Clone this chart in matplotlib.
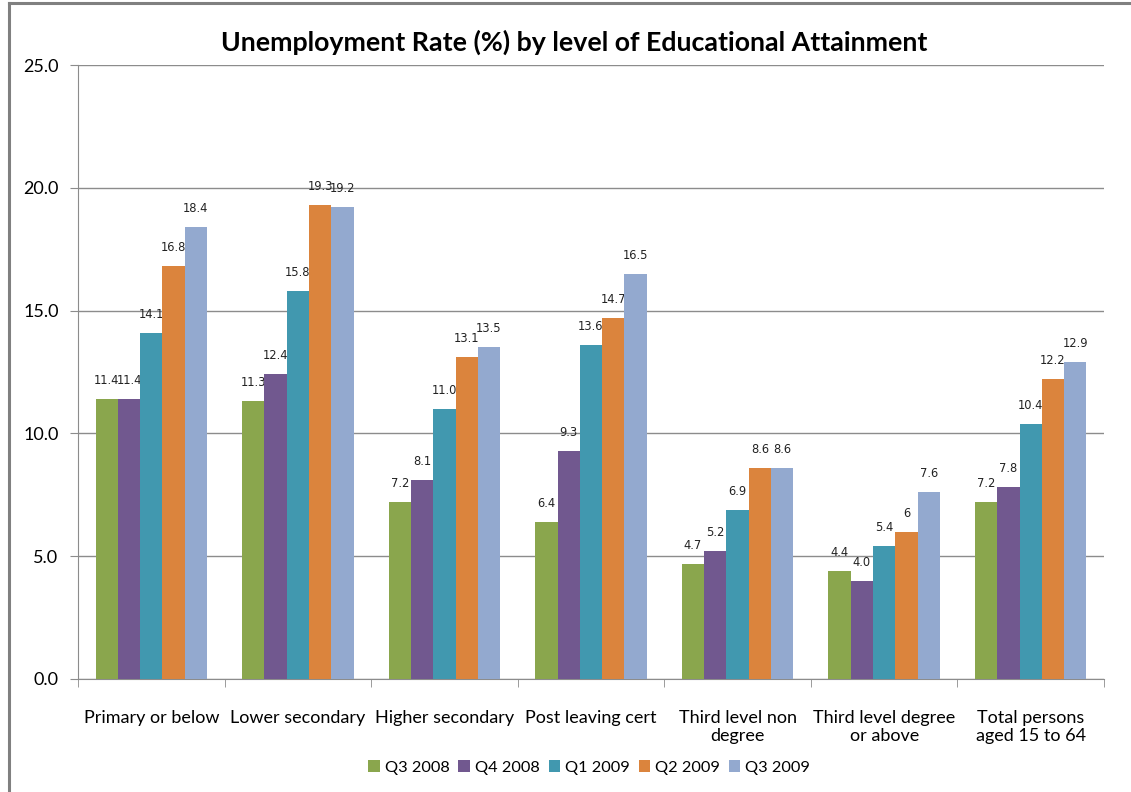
#!/usr/bin/env python3
"""Unemployment rate by level of educational attainment, grouped bars."""

import matplotlib
matplotlib.use('Agg')
import matplotlib.pyplot as plt
import numpy as np

categories = ["Primary or below", "Lower secondary", "Higher secondary",
              "Post leaving cert", "Third level non\ndegree",
              "Third level degree\nor above", "Total persons\naged 15 to 64"]
quarters = ["Q3 2008", "Q4 2008", "Q1 2009", "Q2 2009", "Q3 2009"]

q3_2008 = [11.4, 11.3, 7.2, 6.4, 4.7, 4.4, 7.2]
q4_2008 = [11.4, 12.4, 8.1, 9.3, 5.2, 4.0, 7.8]
q1_2009 = [14.1, 15.8, 11.0, 13.6, 6.9, 5.4, 10.4]
q2_2009 = [16.8, 19.3, 13.1, 14.7, 8.6, 6.0, 12.2]
q3_2009 = [18.4, 19.2, 13.5, 16.5, 8.6, 7.6, 12.9]
series = [q3_2008, q4_2008, q1_2009, q2_2009, q3_2009]

# one label in the source table was entered without a decimal
label_fmt = {(3, 5): "{:g}"}

colors = ["#8aa64d", "#71588f", "#4198af", "#db843d", "#93a9cf"]

plt.rcParams['font.family'] = ['Lato', 'DejaVu Sans']

fig = plt.figure(figsize=(11.31, 7.92), dpi=100)
ax = fig.add_axes([0.069, 0.1427, 0.9071, 0.7752])

x = np.arange(len(categories))
width = 0.152
for i, (vals, col, name) in enumerate(zip(series, colors, quarters)):
    offset = (i - 2) * width
    ax.bar(x + offset, vals, width, color=col, label=name, zorder=3)
    for j, v in enumerate(vals):
        fmt = label_fmt.get((i, j), "{:.1f}")
        ax.annotate(fmt.format(v), (x[j] + offset, v), xytext=(0, 12),
                    textcoords="offset pixels", ha="center", va="bottom",
                    fontsize=8.3, family="DejaVu Sans", color="#222222")

ax.set_xlim(-0.5, len(categories) - 0.5)
ax.set_ylim(0, 25)
ax.set_yticks(np.arange(0, 26, 5))
ax.set_yticklabels([f"{t:.1f}" for t in np.arange(0, 26, 5)], fontsize=13)
ax.yaxis.grid(True, color="#8c8c8c", linewidth=1.0, zorder=0)

ax.set_xticks(x)
ax.set_xticklabels(categories, fontsize=13, linespacing=1.2)
ax.tick_params(axis="x", length=0, pad=22)
ax.set_xticks(np.arange(-0.5, len(categories)), minor=True)
ax.tick_params(axis="x", which="minor", length=6, color="#8c8c8c")
ax.tick_params(axis="y", length=6, color="#8c8c8c", pad=8)

for s in ["top", "right"]:
    ax.spines[s].set_visible(False)
for s in ["left", "bottom"]:
    ax.spines[s].set_color("#8c8c8c")

fig.text(0.508, 0.946, "Unemployment Rate (%) by level of Educational Attainment",
         ha="center", va="center", fontsize=19.3, fontweight="bold")

leg = ax.legend(loc="center", ncol=5, frameon=False, fontsize=11.8,
                handlelength=0.7, handleheight=0.7, handletextpad=0.3,
                columnspacing=0.55)
leg.set_bbox_to_anchor((0.521, 0.031), transform=fig.transFigure)

# chart border, only the top and left edges fall inside the canvas
fig.add_artist(plt.Line2D([0.008, 0.008], [0, 0.996], transform=fig.transFigure,
                          color="#808080", linewidth=2.2))
fig.add_artist(plt.Line2D([0.008, 1], [0.996, 0.996], transform=fig.transFigure,
                          color="#808080", linewidth=2.2))

fig.savefig("out.png", dpi=100)
plt.close(fig)
